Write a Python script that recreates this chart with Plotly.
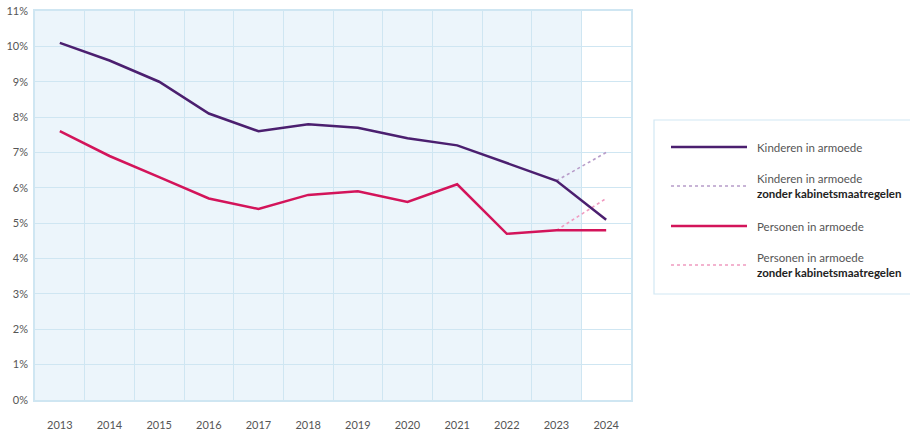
import plotly.graph_objects as go

years = [2013, 2014, 2015, 2016, 2017, 2018, 2019, 2020, 2021, 2022, 2023, 2024]
kinderen = [10.1, 9.6, 9.0, 8.1, 7.6, 7.8, 7.7, 7.4, 7.2, 6.7, 6.2, 5.1]
personen = [7.6, 6.9, 6.3, 5.7, 5.4, 5.8, 5.9, 5.6, 6.1, 4.7, 4.8, 4.8]
zonder_years = [2023, 2024]
kinderen_zonder = [6.2, 7.0]
personen_zonder = [4.8, 5.7]
y_ticks = list(range(0, 12))
realised_until = 2023

C_KIND = "#4b1f6f"
C_PERS = "#d3145a"
C_KIND_Z = "#b79cc9"
C_PERS_Z = "#f09ac0"
GRID = "#cfe6f2"
FONT = "Lato, 'Open Sans', sans-serif"

fig = go.Figure()
fig.add_trace(go.Scatter(x=zonder_years, y=kinderen_zonder, mode="lines",
                         line=dict(color=C_KIND_Z, width=1.6, dash="dot"), showlegend=False))
fig.add_trace(go.Scatter(x=zonder_years, y=personen_zonder, mode="lines",
                         line=dict(color=C_PERS_Z, width=1.6, dash="dot"), showlegend=False))
fig.add_trace(go.Scatter(x=years, y=kinderen, mode="lines",
                         line=dict(color=C_KIND, width=2.5), showlegend=False))
fig.add_trace(go.Scatter(x=years, y=personen, mode="lines",
                         line=dict(color=C_PERS, width=2.5), showlegend=False))

# shaded realised period
fig.add_shape(type="rect", xref="x", yref="y", x0=years[0] - 0.5, x1=realised_until + 0.5,
              y0=0, y1=y_ticks[-1], fillcolor="#ecf5fb", line_width=0, layer="below")

fig.update_xaxes(range=[years[0] - 0.5, years[-1] + 0.5], tickvals=years,
                 ticktext=[str(y) for y in years], showgrid=False, zeroline=False,
                 showline=True, linecolor=GRID, linewidth=1.5, mirror=True,
                 ticks="outside", ticklen=14, tickcolor="rgba(0,0,0,0)", automargin=False,
                 tickfont=dict(family=FONT, size=11, color="#555555"),
                 minor=dict(tickvals=[y - 0.5 for y in years] + [years[-1] + 0.5],
                            showgrid=True, gridcolor=GRID, gridwidth=1.2, ticks=""))
fig.update_yaxes(range=[0, y_ticks[-1]], tickvals=y_ticks,
                 ticktext=[f"{v}%" for v in y_ticks], showgrid=True, gridcolor=GRID,
                 gridwidth=1.2, zeroline=False, showline=True, linecolor=GRID,
                 linewidth=1.5, mirror=True, ticks="outside", ticklen=3,
                 tickcolor="rgba(0,0,0,0)", automargin=False, ticklabeloverflow="allow",
                 tickfont=dict(family=FONT, size=11, color="#555555"))

# plot area in page pixels
L, R, T, B = 35, 631, 11, 400
def px(p):
    return (p - L) / (R - L)
def py(p):
    return (B - p) / (B - T)

fig.add_shape(type="rect", xref="paper", yref="paper", x0=px(654), x1=px(930),
              y0=py(294), y1=py(120), line=dict(color="#d2e8f3", width=1.2),
              fillcolor="rgba(0,0,0,0)")
bold_line = "<b style='color:#222'>zonder kabinetsmaatregelen</b>"
entries = [
    (147, C_KIND, 2.5, "solid", "Kinderen in armoede"),
    (186, C_KIND_Z, 1.6, "dot", "Kinderen in armoede<br>" + bold_line),
    (226, C_PERS, 2.5, "solid", "Personen in armoede"),
    (265, C_PERS_Z, 1.6, "dot", "Personen in armoede<br>" + bold_line),
]
for yy, col, w, dash, txt in entries:
    fig.add_shape(type="line", xref="paper", yref="paper", x0=px(671), x1=px(747),
                  y0=py(yy), y1=py(yy), line=dict(color=col, width=w, dash=dash))
    fig.add_annotation(xref="paper", yref="paper", x=px(755), y=py(yy), text=txt,
                       showarrow=False, xanchor="left", yanchor="middle", align="left",
                       font=dict(family=FONT, size=11.5, color="#555555"))

fig.update_layout(width=910, height=434,
                  margin=dict(l=L, r=910 - R, t=T, b=434 - B),
                  paper_bgcolor="white", plot_bgcolor="white")
fig.write_html("out.html", config={"displayModeBar": False},
               post_script="document.body.style.margin='0';document.body.style.overflow='hidden';")
